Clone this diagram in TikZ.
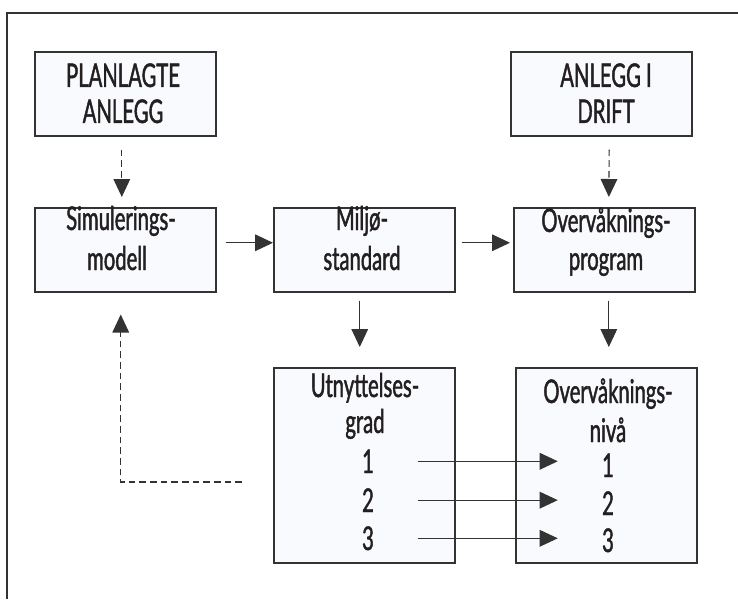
\documentclass[tikz,border=0pt]{standalone}
\usepackage{fontspec}
\setmainfont{Lato}[FakeStretch=0.62, FakeBold=1.3]
\usetikzlibrary{arrows.meta}
\definecolor{boxfill}{HTML}{F8FAFD}
\definecolor{ink}{HTML}{333333}
\definecolor{letter}{HTML}{231F20}
\tikzset{
  box/.style={draw=ink, line width=1.15pt, fill=boxfill, anchor=north west, inner sep=0pt,
    minimum width=135.75pt},
  txt/.style={anchor=base, inner sep=0pt, text=letter, font=\fontsize{24.5}{29}\selectfont},
  num/.style={txt, minimum width=75pt},
  arr/.style={draw=ink, line width=0.85pt, -{Triangle[length=13.5pt,width=12.5pt]}},
  darr/.style={arr, dash pattern=on 5pt off 3pt},
}
\begin{document}
\begin{tikzpicture}[x=0.75pt,y=-0.75pt]
  \useasboundingbox (0,0) rectangle (738,599);
  %%%%% frame %%%%%
  \draw[ink, line width=1.15pt] (7,599) -- (7,13) -- (738,13);

  %%%%% boxes %%%%%
  \def\hs{63pt}   % top row
  \def\hm{63pt}   % middle row
  \def\hb{146.25pt} % bottom row
  \node[box, minimum height=\hs] (plan) at (34,51) {};
  \node[box, minimum height=\hs] (drift) at (510,51) {};
  \node[box, minimum height=\hm] (sim) at (34,207) {};
  \node[box, minimum height=\hm] (milj) at (273,207) {};
  \node[box, minimum height=\hm] (prog) at (513,207) {};
  \node[box, minimum height=\hb] (utn) at (273,367) {};
  \node[box, minimum height=\hb] (niva) at (515,367) {};

  %%%%% texts %%%%%
  \node[txt] (plan1) at (123,87) {PLANLAGTE};
  \node[txt] (plan2) at (123,123) {ANLEGG};
  \node[txt] (drift1) at (606,87) {ANLEGG I};
  \node[txt] (drift2) at (606,123) {DRIFT};
  \node[txt] (sim1) at (121,230) {Simulerings-};
  \node[txt] (sim2) at (117,270) {modell};
  \node[txt] (milj1) at (362,230) {Miljø-};
  \node[txt] (milj2) at (362,270) {standard};
  \node[txt] (prog1) at (606,232) {Overvåknings-};
  \node[txt] (prog2) at (606,270) {program};
  \node[txt] (utn1) at (365,397) {Utnyttelses-};
  \node[txt] (utn2) at (365,433) {grad};
  \node[txt] (niva1) at (608,403) {Overvåknings-};
  \node[txt] (niva2) at (608,442) {nivå};
  \node[num] (u1) at (368,473) {1};
  \node[num] (u2) at (368,512) {2};
  \node[num] (u3) at (368,550) {3};
  \node[num] (n1) at (608,477) {1};
  \node[num] (n2) at (608,515) {2};
  \node[num] (n3) at (608,552) {3};

  %%%%% arrows %%%%%
  \draw[darr, shorten <=9.75pt, shorten >=7.5pt] ([xshift=-2.6pt]plan.south) -- ([xshift=-2.6pt]sim.north);
  \draw[darr, shorten <=9.75pt, shorten >=7.5pt] ([xshift=6pt]drift.south) -- ([xshift=3.4pt]prog.north);
  \draw[arr, shorten <=6.75pt] ([yshift=5.25pt]sim.east) -- ([yshift=5.25pt]milj.west);
  \draw[arr, shorten <=4.5pt, shorten >=2.25pt] ([yshift=5.25pt]milj.east) -- ([yshift=5.25pt]prog.west);
  \draw[arr, shorten <=6pt, shorten >=15pt] ([xshift=-3.4pt]milj.south) -- ([xshift=-3.4pt]utn.north);
  \draw[arr, shorten <=6pt, shorten >=15pt] ([xshift=3.4pt]prog.south) -- ([xshift=3.4pt]prog.south |- niva.north);
  \foreach \i in {1,2,3}
    \draw[arr] (u\i.east) -- (u\i.east -| n\i.west);
  \coordinate (back) at (242,482);
  \draw[darr, shorten >=16.5pt] (back) -| ([xshift=-3.4pt]sim.south);
\end{tikzpicture}
\end{document}
